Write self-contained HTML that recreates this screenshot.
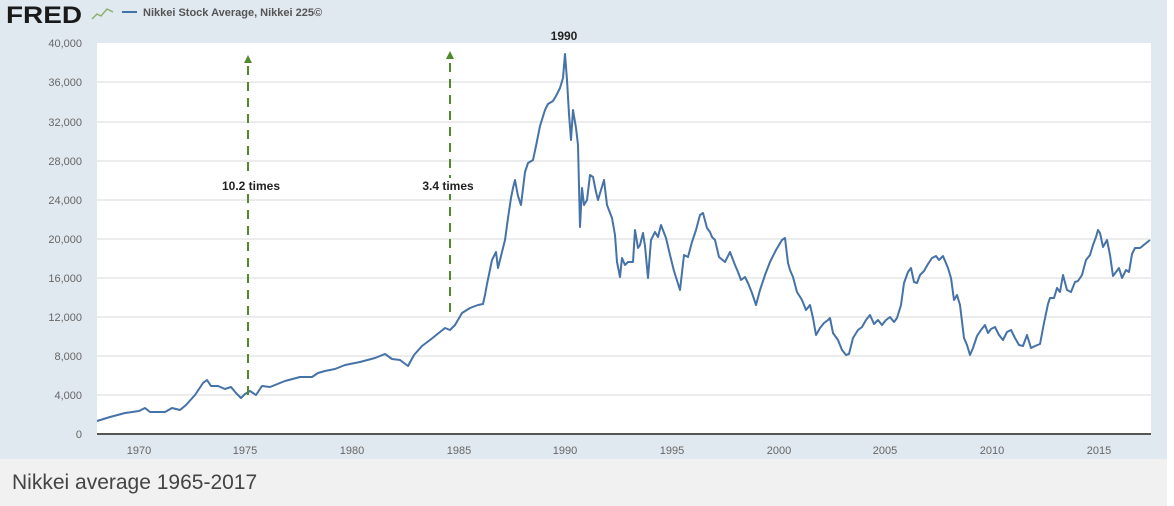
<!DOCTYPE html>
<html><head><meta charset="utf-8"><style>
html,body{margin:0;padding:0;background:#fff;width:1174px;height:506px;overflow:hidden}
svg{display:block}
</style></head><body>
<svg width="1174" height="506" xmlns="http://www.w3.org/2000/svg" font-family="Liberation Sans, sans-serif">
<rect x="0" y="0" width="1167" height="459" fill="#e1e9f0"/>
<rect x="0" y="459" width="1167" height="47" fill="#f1f1f1"/>
<rect x="97" y="43" width="1054" height="391" fill="#fff"/>
<g stroke="#e6e6e6" stroke-width="1.5">
<line x1="97" x2="1151" y1="395" y2="395"/><line x1="97" x2="1151" y1="356" y2="356"/>
<line x1="97" x2="1151" y1="317" y2="317"/><line x1="97" x2="1151" y1="278" y2="278"/>
<line x1="97" x2="1151" y1="239" y2="239"/><line x1="97" x2="1151" y1="200" y2="200"/>
<line x1="97" x2="1151" y1="161" y2="161"/><line x1="97" x2="1151" y1="122" y2="122"/>
<line x1="97" x2="1151" y1="82" y2="82"/>
</g>
<line x1="97" x2="1151" y1="434" y2="434" stroke="#555" stroke-width="2"/>
<g fill="#666" font-size="11" text-anchor="end">
<text x="82" y="438">0</text><text x="82" y="399">4,000</text><text x="82" y="360">8,000</text>
<text x="82" y="321">12,000</text><text x="82" y="282">16,000</text><text x="82" y="243">20,000</text>
<text x="82" y="204">24,000</text><text x="82" y="165">28,000</text><text x="82" y="126">32,000</text>
<text x="82" y="86">36,000</text><text x="82" y="47">40,000</text>
</g>
<g fill="#666" font-size="11" text-anchor="middle">
<text x="139" y="454">1970</text><text x="245" y="454">1975</text><text x="352" y="454">1980</text>
<text x="459" y="454">1985</text><text x="565" y="454">1990</text><text x="672" y="454">1995</text>
<text x="779" y="454">2000</text><text x="885" y="454">2005</text><text x="992" y="454">2010</text>
<text x="1099" y="454">2015</text>
</g>
<polyline fill="none" stroke="#4572a7" stroke-width="2" stroke-linejoin="round" points="97,421 110,417 125,413 139,411 145,408 150,412 165,412 172,408 180,410 186,405 195,395 203,383 207,380 211,386 218,386 225,389 231,387 236,393 241,398 245,394 250,391 256,395 262,386 270,387 285,381 300,377 312,377 318,373 325,371 335,369 345,365 360,362 375,358 385,354 392,359 400,360 408,366 414,355 422,346 430,340 440,332 445,328 450,330 455,325 462,313 470,308 478,305 483,304 485,295 487,284 492,260 496,252 498,268 505,240 508,218 511,198 513,188 515,180 518,196 521,205 525,172 528,163 533,160 536,146 540,126 545,110 548,104 553,101 556,96 560,88 563,78 565,54 567,80 569,114 571,140 573,110 576,128 578,145 580,227 582,188 584,205 587,200 590,175 593,177 596,192 598,200 601,190 604,180 607,205 612,218 615,235 617,262 620,277 622,258 625,265 628,262 633,262 635,230 638,248 640,245 643,233 645,246 648,278 651,240 655,232 658,237 661,225 666,238 670,255 674,271 680,290 684,255 688,257 692,242 696,230 700,215 703,213 707,228 710,232 712,237 715,240 719,257 725,262 730,252 735,265 738,272 741,280 745,277 748,283 752,293 756,305 760,290 765,275 770,262 776,250 782,240 785,238 788,263 790,270 793,277 797,292 802,300 806,310 810,305 813,318 816,335 820,328 824,323 828,320 830,318 833,333 838,340 842,350 846,355 849,354 853,338 858,330 862,327 866,320 870,315 874,324 878,320 882,325 886,320 890,317 894,322 897,318 901,305 904,283 908,272 911,268 914,282 917,283 920,275 924,271 928,264 932,258 936,256 939,260 943,256 948,268 951,278 954,300 957,295 960,305 964,338 967,345 970,355 973,348 977,336 981,330 985,325 988,333 991,329 995,327 999,335 1003,340 1007,332 1011,330 1015,338 1019,345 1023,346 1027,335 1031,348 1035,346 1040,344 1044,323 1048,304 1050,298 1054,298 1057,288 1060,292 1063,275 1067,290 1071,292 1075,282 1078,281 1082,275 1086,260 1090,255 1093,245 1096,237 1098,230 1100,233 1103,247 1107,240 1110,255 1113,276 1116,272 1119,268 1122,278 1126,270 1129,272 1132,254 1135,248 1140,248 1145,244 1150,240"/>
<g stroke="#4f8a2b" stroke-width="2" stroke-dasharray="9,7">
<line x1="248" y1="395" x2="248" y2="64"/>
<line x1="450" y1="312" x2="450" y2="60"/>
</g>
<polygon points="248,55 244,63 252,63" fill="#4f8a2b"/>
<polygon points="450,51 446,59 454,59" fill="#4f8a2b"/>
<rect x="215" y="178" width="72" height="16" fill="#fff"/>
<rect x="415" y="178" width="66" height="16" fill="#fff"/>
<g font-size="12" font-weight="bold" fill="#222" text-anchor="middle">
<text x="251" y="190">10.2 times</text>
<text x="448" y="190">3.4 times</text>
<text x="564" y="40">1990</text>
</g>
<text x="6" y="23" font-size="24" font-weight="bold" fill="#1a1a1a" textLength="76" lengthAdjust="spacingAndGlyphs">FRED</text>
<polyline points="92,19 97,14 101,16 107,9 113,12" fill="none" stroke="#8ab06a" stroke-width="1.5"/>
<line x1="122" y1="12" x2="137" y2="12" stroke="#4572a7" stroke-width="2"/>
<text x="143" y="16" font-size="11" font-weight="bold" fill="#555">Nikkei Stock Average, Nikkei 225©</text>
<text x="12" y="489" font-size="21" fill="#444">Nikkei average 1965-2017</text>
</svg>
</body></html>
